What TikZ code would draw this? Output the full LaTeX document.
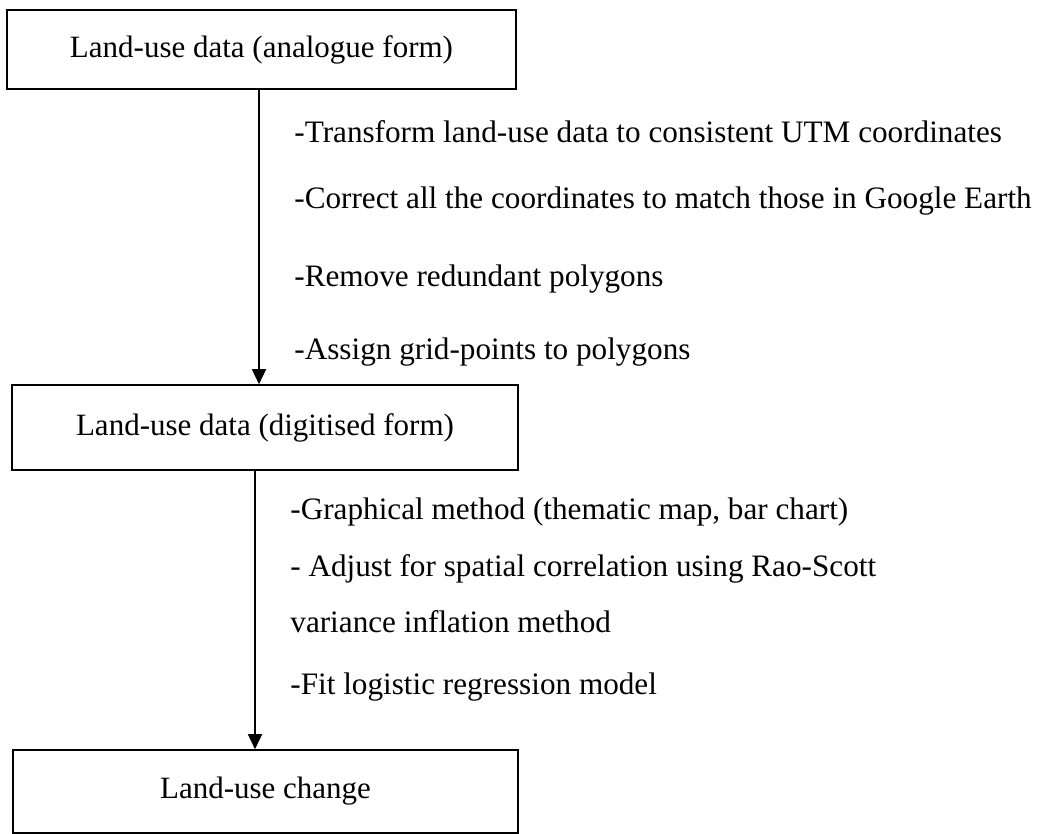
\documentclass[tikz,border=0pt]{standalone}
\usepackage{fontspec}
\setmainfont{Liberation Serif}
\usetikzlibrary{arrows.meta}
\begin{document}
\begin{tikzpicture}[x=0.5pt,y=-0.5pt,
  every node/.style={font=\fontsize{15.5}{18}\selectfont},
  box/.style={draw,line width=0.8pt,inner sep=0pt},
  flow/.style={line width=0.8pt,-{Triangle[width=7pt,length=7.5pt]}},
  note/.style={anchor=west,inner sep=0pt,font=\fontsize{15.6}{18}\selectfont}]
\useasboundingbox (0,0) rectangle (1043,834);
\node[box,minimum width=254.5pt,minimum height=39.5pt] (b1) at (261.5,49.5) {Land-use data (analogue form)};
\node[box,minimum width=253pt,minimum height=42.5pt] (b2) at (265,427.5) {Land-use data (digitised form)};
\node[box,minimum width=252.5pt,minimum height=41.5pt] (b3) at (265.5,791.5) {Land-use change};
\coordinate (a1) at (259,0);
\coordinate (a2) at (255,0);
\draw[flow] (a1 |- b1.south) -- (a1 |- b2.north);
\draw[flow] (a2 |- b2.south) -- (a2 |- b3.north);
\node[note] (t1) at (294,132) {-Transform land-use data to consistent UTM coordinates};
\node[note] (t2) at (294,201) {-Correct all the coordinates to match those in Google Earth};
\node[note] (t3) at (294,279) {-Remove redundant polygons};
\node[note] (t4) at (294,352) {-Assign grid-points to polygons};
\node[note] (u1) at (290,512) {-Graphical method (thematic map, bar chart)};
\node[note] (u2) at (290,569) {- Adjust for spatial correlation using Rao-Scott};
\node[note] (u3) at (290,622) {variance inflation method};
\node[note] (u4) at (290,687) {-Fit logistic regression model};
\end{tikzpicture}
\end{document}
